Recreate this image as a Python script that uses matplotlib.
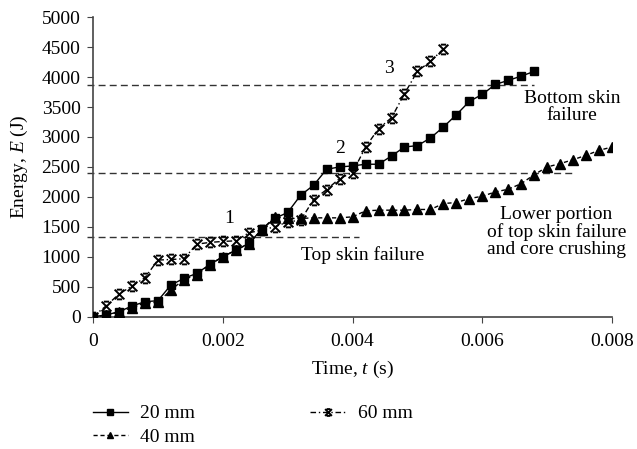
import numpy as np
import matplotlib
matplotlib.use("Agg")
import matplotlib.pyplot as plt
from matplotlib.path import Path

plt.rcParams['font.family'] = ['Liberation Serif', 'DejaVu Serif']
plt.rcParams['mathtext.fontset'] = 'custom'
plt.rcParams['mathtext.rm'] = 'Liberation Serif'
plt.rcParams['mathtext.it'] = 'Liberation Serif:italic'

# Data
t_20 = [i * 0.0002 for i in range(35)]
e_20 = [0, 28, 83, 178, 250, 267, 528, 640, 723, 873, 1000, 1111, 1222, 1456, 1640,
        1740, 2028, 2195, 2461, 2500, 2517, 2545, 2545, 2683, 2833, 2856, 2983, 3167,
        3372, 3595, 3712, 3878, 3945, 4017, 4095]
t_40 = [i * 0.0002 for i in range(41)]
e_40 = [0, 20, 80, 150, 230, 240, 445, 620, 700, 870, 1000, 1110, 1220, 1450, 1667,
        1640, 1640, 1650, 1650, 1650, 1667, 1767, 1778, 1778, 1778, 1790, 1790, 1889,
        1906, 1972, 2011, 2083, 2128, 2222, 2372, 2500, 2556, 2622, 2695, 2778, 2833]
t_60 = [i * 0.0002 for i in range(28)]
e_60 = [0, 178, 378, 511, 650, 945, 955, 967, 1211, 1240, 1256, 1267, 1400, 1445,
        1500, 1583, 1611, 1956, 2122, 2306, 2406, 2833, 3139, 3322, 3722, 4100, 4261, 4472]

ref_levels = [1333, 2400, 3872]
ref_ends = [0.0041, 0.0074, 0.0068]

labels = ['20 mm', '40 mm', '60 mm']
x_ticks = [0, 0.002, 0.004, 0.006, 0.008]
x_ticklabels = ['0', '0.002', '0.004', '0.006', '0.008']
y_ticks = list(range(0, 5001, 500))

# custom cross marker with caps
verts = [(-1, -1), (1, 1), (-1, 1), (1, -1),
         (-0.55, 1), (0.55, 1), (-0.55, -1), (0.55, -1)]
codes = [Path.MOVETO, Path.LINETO] * 4
xmark = Path(verts, codes)

fs = 14

fig = plt.figure(figsize=(6.37, 4.49), dpi=100)
ax = fig.add_axes([0.146, 0.2947, 0.815, 0.667])

for lvl, end in zip(ref_levels, ref_ends):
    ax.plot([-0.0001, end], [lvl, lvl], color='#333333', lw=1.0,
            dashes=(5, 3), clip_on=False, zorder=1)

ax.plot(t_20, e_20, '-', color='black', marker='s', ms=6, lw=1.0,
        label=labels[0], zorder=3)
ax.plot(t_40, e_40, color='black', marker='^', ms=6.5, lw=1.0,
        dashes=(3, 2), label=labels[1], zorder=3)
ax.plot(t_60, e_60, color='black', marker=xmark, ms=7, mew=1.4, mfc='none',
        lw=1.0, dashes=(4, 2, 1, 2), label=labels[2], zorder=3)

ax.set_xlim(0, 0.008)
ax.set_ylim(0, 5000)
ax.set_xticks(x_ticks)
ax.set_xticklabels(x_ticklabels)
ax.set_yticks(y_ticks)
for s in ['top', 'right']:
    ax.spines[s].set_visible(False)
for s in ['left', 'bottom']:
    ax.spines[s].set_color('#444444')
    ax.spines[s].set_linewidth(1.2)
ax.tick_params(direction='out', length=4, labelsize=fs, color='#444444')
ax.tick_params(axis='x', pad=8)
ax.tick_params(axis='y', pad=5)

ax.set_xlabel(r'Time, $t$ (s)', fontsize=fs, labelpad=6)
ax.set_ylabel(r'Energy, $E$ (J)', fontsize=fs, labelpad=8)

ax.text(0.0021, 1640, '1', fontsize=fs, ha='center', va='center')
ax.text(0.0038, 2810, '2', fontsize=fs, ha='center', va='center')
ax.text(0.00456, 4140, '3', fontsize=fs, ha='center', va='center')
ax.text(0.00415, 1030, 'Top skin failure', fontsize=fs, ha='center', va='center')
ax.text(0.00738, 3500, 'Bottom skin\nfailure', fontsize=fs, ha='center',
        va='center', linespacing=1.0)
ax.text(0.00714, 1410, 'Lower portion\nof top skin failure\nand core crushing',
        fontsize=fs, ha='center', va='center', linespacing=1.0)

h, l = ax.get_legend_handles_labels()
fig.legend(h, l, loc='upper left', bbox_to_anchor=(85 / 637, 1 - 397 / 449),
           ncol=2, frameon=False, fontsize=fs, handlelength=1.8,
           columnspacing=5.9, handletextpad=0.65, labelspacing=0.32,
           markerscale=0.7, borderaxespad=0)

fig.savefig('out.png', dpi=100)
